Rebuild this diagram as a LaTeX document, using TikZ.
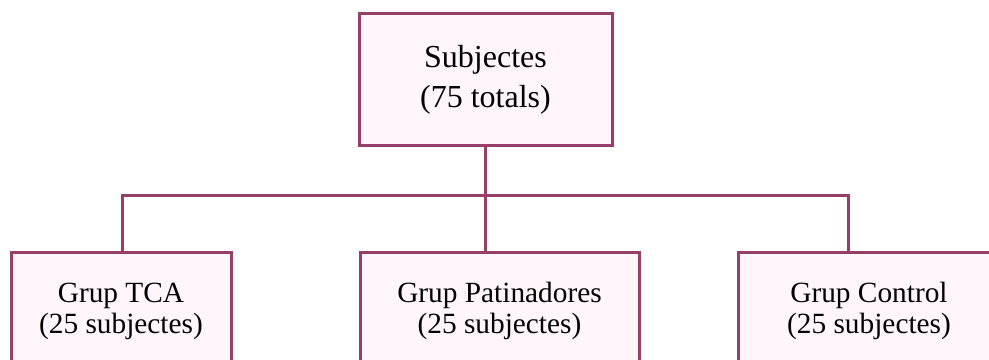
\documentclass[tikz,border=0pt]{standalone}
\usepackage{fontspec}
\setmainfont{Liberation Serif}
\definecolor{edgec}{HTML}{963F68}
\definecolor{fillc}{HTML}{FFF5FA}
\tikzset{
  box/.style={draw=edgec, fill=fillc, line width=2.25pt, rectangle, align=center, inner sep=0pt},
  topbox/.style={box, minimum width=189.75pt, minimum height=98.25pt, font=\fontsize{24}{30}\selectfont},
  grpbox/.style={box, minimum height=88.5pt, font=\fontsize{22}{23.3}\selectfont},
  link/.style={draw=edgec, line width=2.25pt}
}
\begin{document}
\begin{tikzpicture}[x=0.75pt,y=-0.75pt]
\useasboundingbox (0,0) rectangle (989,360);
\clip (0,0) rectangle (989,360);
\node[topbox] (top) at (485.5,79.5) {Subjectes\\(75 totals)};
\node[grpbox, minimum width=165pt] (L) at (121,311) {Grup TCA\\(25 subjectes)};
\node[grpbox, minimum width=209.25pt] (M) at (499.5,311) {Grup Patinadores\\(25 subjectes)};
\node[grpbox, minimum width=196.5pt] (R) at (869,311) {Grup Control\\(25 subjectes)};
\coordinate (lt) at (122,195);
\coordinate (rt) at (848,195);
\draw[link] (top.south) -- (top.south |- M.north);
\draw[link] (lt |- L.north) -- (lt) -- (rt) -- (rt |- R.north);
\end{tikzpicture}
\end{document}
